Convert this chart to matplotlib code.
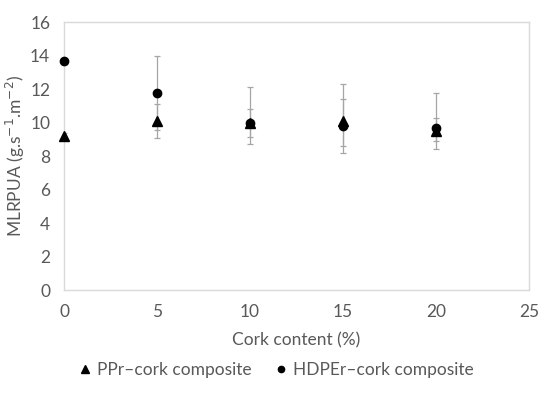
import matplotlib.pyplot as plt
from matplotlib.lines import Line2D
import numpy as np

plt.rcParams.update({"font.family": ["Lato", "DejaVu Sans"], "font.size": 12.5})

cork = [0, 5, 10, 15, 20]

ppr = [9.2, 10.1, 10.0, 10.1, 9.5]
ppr_lo = [0.2, 1.0, 0.85, 1.5, 0.6]
ppr_hi = [0.2, 1.0, 0.8, 1.3, 0.8]

hdper = [13.7, 11.75, 9.95, 9.8, 9.7]
hdper_lo = [0.1, 2.2, 1.25, 1.6, 1.3]
hdper_hi = [0.1, 2.2, 2.2, 2.5, 2.05]

text_color = "#595959"
bar_color = "#a6a6a6"

fig = plt.figure(figsize=(5.5, 3.95), dpi=100)
ax = fig.add_axes([0.1164, 0.2658, 0.8456, 0.6782])

for y, lo, hi, m, ms in [(ppr, ppr_lo, ppr_hi, "^", 7), (hdper, hdper_lo, hdper_hi, "o", 6)]:
    eb = ax.errorbar(cork, y, yerr=[lo, hi], fmt=m, color="black",
                     ms=ms, ecolor=bar_color, elinewidth=0.9, capsize=2.5,
                     capthick=0.9, zorder=3)
    eb[0].set_clip_on(False)

ax.set_xlim(0, 25)
ax.set_ylim(0, 16)
ax.set_xticks(np.arange(0, 26, 5))
ax.set_yticks(np.arange(0, 17, 2))
ax.tick_params(length=0, colors=text_color, labelsize=12.5)
ax.tick_params(axis="x", pad=10)
ax.tick_params(axis="y", pad=10)
for s in ax.spines.values():
    s.set_color("#d9d9d9")
    s.set_linewidth(1.0)

ax.set_xlabel("Cork content (%)", color=text_color, labelpad=9)
ax.set_ylabel("MLRPUA (g.s$^{-1}$.m$^{-2}$)", color=text_color, labelpad=2)

handles = [
    Line2D([], [], ls="none", marker="^", color="black", ms=5.5),
    Line2D([], [], ls="none", marker="o", color="black", ms=4.5),
]
labels = ["PPr\u2013cork composite", "HDPEr\u2013cork composite"]
leg = fig.legend(handles, labels, loc="center", bbox_to_anchor=(0.5, 0.063),
                 ncol=2, frameon=False, handletextpad=0.2,
                 columnspacing=1.2, handlelength=1.0)
for t in leg.get_texts():
    t.set_color(text_color)

fig.savefig("out.png", dpi=100)
